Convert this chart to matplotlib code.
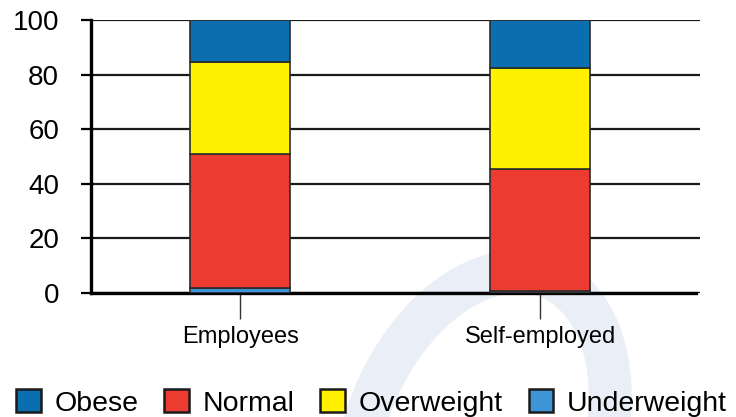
import matplotlib.pyplot as plt
from matplotlib.patches import Arc, Patch

plt.rcParams['font.family'] = ['Liberation Sans', 'DejaVu Sans']

groups = ['Employees', 'Self-employed']
underweight = [1.7, 0.7]
normal = [49.1, 44.6]
overweight = [33.9, 37.2]
obese = [15.3, 17.5]

c_obese = '#0a6eaf'
c_normal = '#ec3b30'
c_over = '#fff100'
c_under = '#3d94d6'

fig = plt.figure(figsize=(7.36, 4.17), dpi=100)

# faint watermark arc in the background
arc = Arc((482/736, 1 - 445/417), 244/736, 350/417, angle=-8, theta1=0, theta2=180,
          transform=fig.transFigure, color='#eaeff7', lw=31, zorder=-5)
fig.patches.append(arc)

ax = fig.add_axes([91/736, 1 - 293/417, 609/736, 273/417], zorder=2)
ax.patch.set_alpha(0)

x = [0, 1]
w = 0.333
kw = dict(width=w, edgecolor='#2b2b2b', linewidth=1.2, zorder=3)
b1 = [u for u in underweight]
b2 = [u + n for u, n in zip(underweight, normal)]
b3 = [a + o for a, o in zip(b2, overweight)]
ax.bar(x, underweight, color=c_under, **kw)
ax.bar(x, normal, bottom=b1, color=c_normal, **kw)
ax.bar(x, overweight, bottom=b2, color=c_over, **kw)
ax.bar(x, obese, bottom=b3, color=c_obese, **kw)

ax.set_xlim(-0.497, 1.533)
ax.set_ylim(0, 100)
ax.set_yticks([0, 20, 40, 60, 80, 100])
ax.yaxis.grid(True, color='#1a1a1a', linewidth=1.6, zorder=1)
ax.set_axisbelow(True)

for s in ['top', 'right']:
    ax.spines[s].set_visible(False)
ax.spines['left'].set_linewidth(2.4)
ax.spines['bottom'].set_linewidth(2.4)
ax.spines['bottom'].set_bounds(-0.497, 1.52)

ax.tick_params(axis='y', direction='out', length=7, width=1.6, labelsize=20, pad=16)
ax.set_xticks(x)
ax.set_xticklabels(groups)
ax.tick_params(axis='x', direction='out', length=19, width=1.0, color='#333333',
               labelsize=17, pad=5)

handles = [Patch(facecolor=c, edgecolor='#1a1a1a', linewidth=1.8)
           for c in [c_obese, c_normal, c_over, c_under]]
fig.legend(handles, ['Obese', 'Normal', 'Overweight', 'Underweight'],
           loc='lower center', bbox_to_anchor=(0.505, -0.04), ncol=4, frameon=False,
           fontsize=20.5, handlelength=0.85, handleheight=0.85, handletextpad=0.5,
           columnspacing=0.9, borderaxespad=0.2)

fig.savefig('out.png', dpi=100)
